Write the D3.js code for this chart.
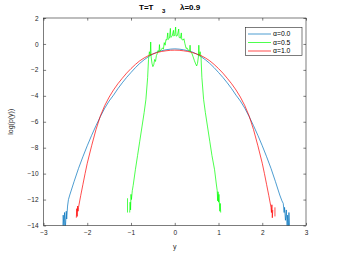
<!DOCTYPE html>
<html><head><meta charset="utf-8">
<script src="https://cdn.jsdelivr.net/npm/d3@7"></script>
<style>
html,body{margin:0;padding:0;background:#fff;}
text{font-family:"Liberation Sans",Arial,Helvetica,sans-serif;}
</style></head>
<body><svg id="c" width="339" height="254"></svg>
<script>
const xTicks = [-3,-2,-1,0,1,2,3];
const yTicks = [2,0,-2,-4,-6,-8,-10,-12,-14];
const seriesNames = ["\u03b1=0.0","\u03b1=0.5","\u03b1=1.0"];
const seriesColors = ["#0072BD","#00FF00","#FF0000"];

// alpha = 0.0 (blue)
const blueX = [-2.56,-2.55,-2.53,-2.52,-2.50,-2.48,-2.47,-2.45,-2.43,
  -2.40,-2.30,-2.20,-2.10,-2.00,-1.90,-1.80,-1.70,-1.60,-1.50,-1.40,-1.30,-1.20,-1.10,-1.00,-0.90,-0.80,-0.70,-0.60,-0.50,-0.40,-0.30,-0.20,-0.10,0,
  0.10,0.20,0.30,0.40,0.50,0.60,0.70,0.80,0.90,1.00,1.10,1.20,1.30,1.40,1.50,1.60,1.70,1.80,1.90,2.00,2.10,2.20,2.30,2.40,
  2.45,2.48,2.50,2.51,2.53,2.55,2.57,2.58,2.60,2.61,2.63];
const blueY = [-14.5,-13.2,-14.3,-13.0,-14.2,-12.9,-13.5,-12.5,-12.0,
  -11.65,-10.6,-9.6,-8.7,-7.85,-7.05,-6.3,-5.6,-4.95,-4.4,-3.95,-3.45,-3.0,-2.58,-2.2,-1.83,-1.5,-1.22,-0.98,-0.78,-0.62,-0.52,-0.45,-0.4,-0.38,
  -0.4,-0.45,-0.52,-0.62,-0.78,-0.98,-1.22,-1.5,-1.83,-2.2,-2.58,-3.0,-3.45,-3.95,-4.4,-4.95,-5.6,-6.3,-7.05,-7.85,-8.7,-9.6,-10.6,-11.65,
  -12.1,-12.3,-13.0,-12.6,-13.6,-12.8,-14.2,-13.2,-14.2,-13.0,-14.5];

// alpha = 0.5 (green)
const greenX = [-1.08,-1.08,null,-1.03,-1.02,-1.01,-1.00,-0.99,-0.97,-0.95,-0.90,-0.85,-0.80,-0.75,-0.70,-0.66,-0.62,-0.60,-0.58,-0.56,-0.55,-0.54,-0.52,-0.50,-0.48,-0.46,-0.44,-0.42,-0.40,-0.38,-0.36,-0.35,-0.34,-0.31,-0.28,-0.26,-0.24,-0.22,-0.20,-0.18,-0.16,-0.15,-0.12,-0.10,-0.09,-0.06,-0.03,-0.02,0,
  0.02,0.03,0.06,0.09,0.10,0.13,0.15,0.16,0.19,0.21,0.23,0.26,0.28,0.30,0.34,0.35,0.36,0.39,0.42,0.45,0.48,0.50,0.52,0.54,0.55,0.56,0.58,0.60,0.62,0.66,0.70,0.75,0.80,0.85,0.91,0.95,0.97,0.98,0.99,1.00,1.01,1.03,1.04,1.05];
const greenY = [-13.0,-11.9,null,-13.0,-12.2,-12.8,-11.6,-12.0,-11.3,-10.9,-9.7,-8.6,-7.5,-6.4,-5.3,-4.3,-2.6,-1.2,-0.6,-0.9,0.15,-1.0,-1.5,-1.75,-1.6,-1.2,-1.35,-0.9,-0.75,-0.5,-0.6,-0.05,-0.55,-0.45,-0.3,-0.4,0.1,-0.1,0.35,0.3,0.85,0.35,0.45,1.2,0.5,0.6,1.05,0.6,0.7,
  1.3,0.6,0.65,1.15,0.5,0.45,0.85,0.35,0.3,0.4,0.05,-0.35,-0.3,-0.45,-0.55,-0.1,-0.6,-0.7,-1.0,-1.3,-1.55,-1.7,-1.5,-1.0,-0.1,-0.9,-0.6,-1.0,-2.6,-4.3,-5.3,-6.4,-7.5,-8.6,-9.7,-10.8,-11.3,-12.1,-11.4,-12.2,-11.6,-12.9,-12.3,-13.0];

// alpha = 1.0 (red)
const redX = [-2.25,-2.24,-2.23,-2.22,-2.21,
  -2.20,-2.15,-2.10,-2.05,-2.00,-1.90,-1.80,-1.70,-1.60,-1.50,-1.40,-1.30,-1.20,-1.10,-1.00,-0.90,-0.80,-0.70,-0.60,-0.50,-0.40,-0.30,-0.20,-0.10,0,
  0.10,0.20,0.30,0.40,0.50,0.60,0.70,0.80,0.90,1.00,1.10,1.20,1.30,1.40,1.50,1.60,1.70,1.80,1.90,2.00,2.05,2.10,2.15,2.20,
  2.21,2.22,2.23,2.24,null,2.29,2.29];
const redY = [-13.4,-12.7,-13.3,-12.5,-12.9,
  -12.6,-11.7,-10.85,-10.0,-9.2,-7.85,-6.6,-5.55,-4.75,-4.1,-3.55,-3.07,-2.65,-2.25,-1.9,-1.58,-1.3,-1.08,-0.9,-0.77,-0.66,-0.58,-0.53,-0.49,-0.48,
  -0.49,-0.53,-0.58,-0.66,-0.77,-0.9,-1.08,-1.3,-1.58,-1.9,-2.25,-2.65,-3.07,-3.55,-4.1,-4.75,-5.55,-6.6,-7.85,-9.2,-10.0,-10.85,-11.7,-12.6,
  -13.0,-12.4,-13.4,-12.8,null,-12.6,-13.3];

const svg = d3.select("#c");
const L = 43.5, R = 306, T = 18, B = 225.5;
const x = d3.scaleLinear().domain([-3,3]).range([L,R]);
const y = d3.scaleLinear().domain([-14,2]).range([B,T]);

svg.append("defs").append("clipPath").attr("id","clip")
  .append("rect").attr("x",L).attr("y",T).attr("width",R-L).attr("height",B-T);

const axisColor = "#262626";
function styleAxis(g){
  g.select(".domain").remove();
  g.selectAll(".tick line").attr("stroke",axisColor).attr("stroke-width",0.6);
  g.selectAll(".tick text").attr("fill","#262626").style("font-size","6.5px").style("font-family","'Liberation Sans',Arial,sans-serif");
}
svg.append("g").attr("transform",`translate(0,${B})`)
  .call(d3.axisBottom(x).tickValues(xTicks).tickFormat(d3.format("d")).tickSizeInner(-2.6).tickSizeOuter(0).tickPadding(5))
  .call(styleAxis);
svg.append("g").attr("transform",`translate(0,${T})`)
  .call(d3.axisTop(x).tickValues(xTicks).tickFormat("").tickSizeInner(-2.6).tickSizeOuter(0))
  .call(styleAxis);
svg.append("g").attr("transform",`translate(${L},0)`)
  .call(d3.axisLeft(y).tickValues(yTicks).tickFormat(d3.format("d")).tickSizeInner(-2.6).tickSizeOuter(0).tickPadding(5))
  .call(styleAxis);
svg.append("g").attr("transform",`translate(${R},0)`)
  .call(d3.axisRight(y).tickValues(yTicks).tickFormat("").tickSizeInner(-2.6).tickSizeOuter(0))
  .call(styleAxis);

const lineGen = d3.line().defined(d => d[0] !== null && d[1] !== null).x(d => x(d[0])).y(d => y(d[1]));
const series = [[blueX,blueY],[greenX,greenY],[redX,redY]];
const plot = svg.append("g").attr("clip-path","url(#clip)");
series.forEach((s,i) => {
  const pts = s[0].map((v,j) => [v, s[1][j]]);
  plot.append("path").datum(pts).attr("d",lineGen)
    .attr("fill","none").attr("stroke",seriesColors[i]).attr("stroke-width",0.7).attr("stroke-linejoin","round");
});

svg.append("rect").attr("x",L).attr("y",T).attr("width",R-L).attr("height",B-T)
  .attr("fill","none").attr("stroke",axisColor).attr("stroke-width",0.6);

// legend
const lg = svg.append("g");
lg.append("rect").attr("x",245.5).attr("y",27.5).attr("width",56.5).attr("height",28)
  .attr("fill","#fff").attr("stroke",axisColor).attr("stroke-width",0.6);
seriesNames.forEach((n,i) => {
  const yy = 34 + i*8.5;
  lg.append("line").attr("x1",248).attr("x2",271).attr("y1",yy).attr("y2",yy)
    .attr("stroke",seriesColors[i]).attr("stroke-width",0.7);
  lg.append("text").attr("x",273).attr("y",yy+2.3).text(n)
    .attr("fill","#000").style("font-size","6.8px");
});

// title
const tt = svg.append("text").attr("x",139).attr("y",9.5).attr("fill","#000")
  .style("font-size","8px").style("font-weight","bold");
tt.append("tspan").text("T=T");
tt.append("tspan").attr("x",162).attr("dy",3.8).style("font-size","6px").text("3");
tt.append("tspan").attr("x",180).attr("dy",-3.8).text("\u03bb=0.9");

// axis labels
svg.append("text").attr("x",(L+R)/2).attr("y",249).attr("text-anchor","middle")
  .attr("fill","#262626").style("font-size","7px").text("y");
svg.append("text").attr("transform",`translate(13,${(T+B)/2}) rotate(-90)`).attr("text-anchor","middle")
  .attr("fill","#262626").style("font-size","7px").text("log(p(y))");
</script></body></html>
